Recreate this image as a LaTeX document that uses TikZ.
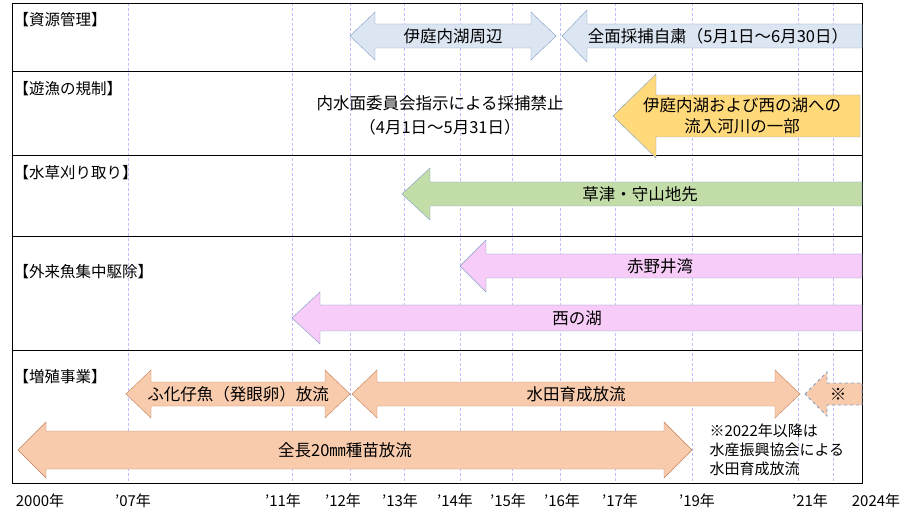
\documentclass[tikz,border=0pt]{standalone}
\usepackage{fontspec}
\setmainfont{Noto Sans CJK JP}
\usetikzlibrary{positioning}
\definecolor{blueF}{HTML}{DCE6F2}
\definecolor{blueD}{HTML}{7F9CC5}
\definecolor{yelF}{HTML}{FFD97A}
\definecolor{grnF}{HTML}{C3DDA8}
\definecolor{pnkF}{HTML}{F8CCF8}
\definecolor{orgF}{HTML}{F8CBAD}
\definecolor{orgD}{HTML}{C0805A}
% left arrow: tip x, tail x, centre y, shaft half, head half, head length
\newcommand{\larr}[7][]{\draw[#1] (#2,#4) -- (#2+#7,#4-#6) -- (#2+#7,#4-#5) -- (#3,#4-#5) -- (#3,#4+#5) -- (#2+#7,#4+#5) -- (#2+#7,#4+#6) -- cycle;}
% double arrow: left x, right x, centre y, shaft half, head half, head length
\newcommand{\darr}[7][]{\draw[#1] (#2,#4) -- (#2+#7,#4-#6) -- (#2+#7,#4-#5) -- (#3-#7,#4-#5) -- (#3-#7,#4-#6) -- (#3,#4) -- (#3-#7,#4+#6) -- (#3-#7,#4+#5) -- (#2+#7,#4+#5) -- (#2+#7,#4+#6) -- cycle;}
\begin{document}
\begin{tikzpicture}[x=1pt,y=-1pt,
  lbl/.style={anchor=west, font=\fontsize{15.5}{18}\selectfont},
  txt/.style={font=\fontsize{16.5}{21}\selectfont},
  yr/.style={font=\fontsize{15}{19}\selectfont},
  grid/.style={blue!25, densely dashed, very thin}]
\useasboundingbox (0,0) rectangle (913,529);
% year grid
\foreach \x in {128,292,350,404,460,512,560,615,692,798,833}
  \draw[grid] (\x,3) -- (\x,483);
% rows
\draw[thick] (12,3) rectangle (862,483);
\foreach \y in {71,155,236,350}
  \draw[thick] (12,\y) -- (862,\y);
\node[lbl] (r1) at (10,20) {【資源管理】};
\node[lbl] (r2) at (10,89) {【遊漁の規制】};
\node[lbl] (r3) at (10,173) {【水草刈り取り】};
\node[lbl] (r4) at (10,272) {【外来魚集中駆除】};
\node[lbl] (r5) at (10,377) {【増殖事業】};
% resource management
\darr[fill=blueF, draw=blueD]{350}{556}{36}{12}{24}{25}
\node[txt] (iba) at (453,36) {伊庭内湖周辺};
\larr[fill=blueF, draw=blueD]{562}{862}{36}{12}{26}{25}
\node[txt] (zen) at (718,36) {全面採捕自粛（5月1日～6月30日）};
% fishing rules
\node[txt] (ban) at (440,103) {内水面委員会指示による採捕禁止};
\node[txt] (ban2) at (440,127) {（4月1日～5月31日）};
\larr[fill=yelF, draw=blueD]{613}{860}{116}{21}{42}{43}
\node[txt, align=center] (riv) at (742,116) {伊庭内湖および西の湖への\\流入河川の一部};
% weed cutting
\larr[fill=grnF, draw=blueD]{402}{862}{194}{12}{26}{28}
\node[txt] (kus) at (640,194) {草津・守山地先};
% alien fish
\larr[fill=pnkF, draw=blueD]{460}{862}{266}{12}{26}{26}
\node[txt] (aka) at (660,266) {赤野井湾};
\larr[fill=pnkF, draw=blueD]{292}{862}{318}{13}{26}{28}
\node[txt] (nis) at (577,318) {西の湖};
% stocking
\darr[fill=orgF, draw=orgD]{126}{350}{394}{12}{24}{25}
\node[txt] (fuk) at (238,394) {ふ化仔魚（発眼卵）放流};
\darr[fill=orgF, draw=orgD]{352}{800}{394}{12}{24}{25}
\node[txt] (sui) at (576,394) {水田育成放流};
\larr[fill=orgF, draw=blueD, thick, dashed]{805}{862}{394}{11}{22}{22}
\node[txt] (kome) at (838,394) {※};
\darr[fill=orgF, draw=orgD]{18}{692}{450}{19}{28}{28}
\node[txt] (zch) at (345,450) {全長20㎜種苗放流};
\node[yr, anchor=west, align=left] (note) at (706,450) {※2022年以降は\\水産振興協会による\\水田育成放流};
% years
\foreach \x/\t in {40/2000年,133/’07年,283/’11年,343/’12年,400/’13年,455/’14年,508/’15年,562/’16年,620/’17年,697/’19年,810/’21年,876/2024年}
  \node[yr] (y\x) at (\x,501) {\t};
\end{tikzpicture}
\end{document}
